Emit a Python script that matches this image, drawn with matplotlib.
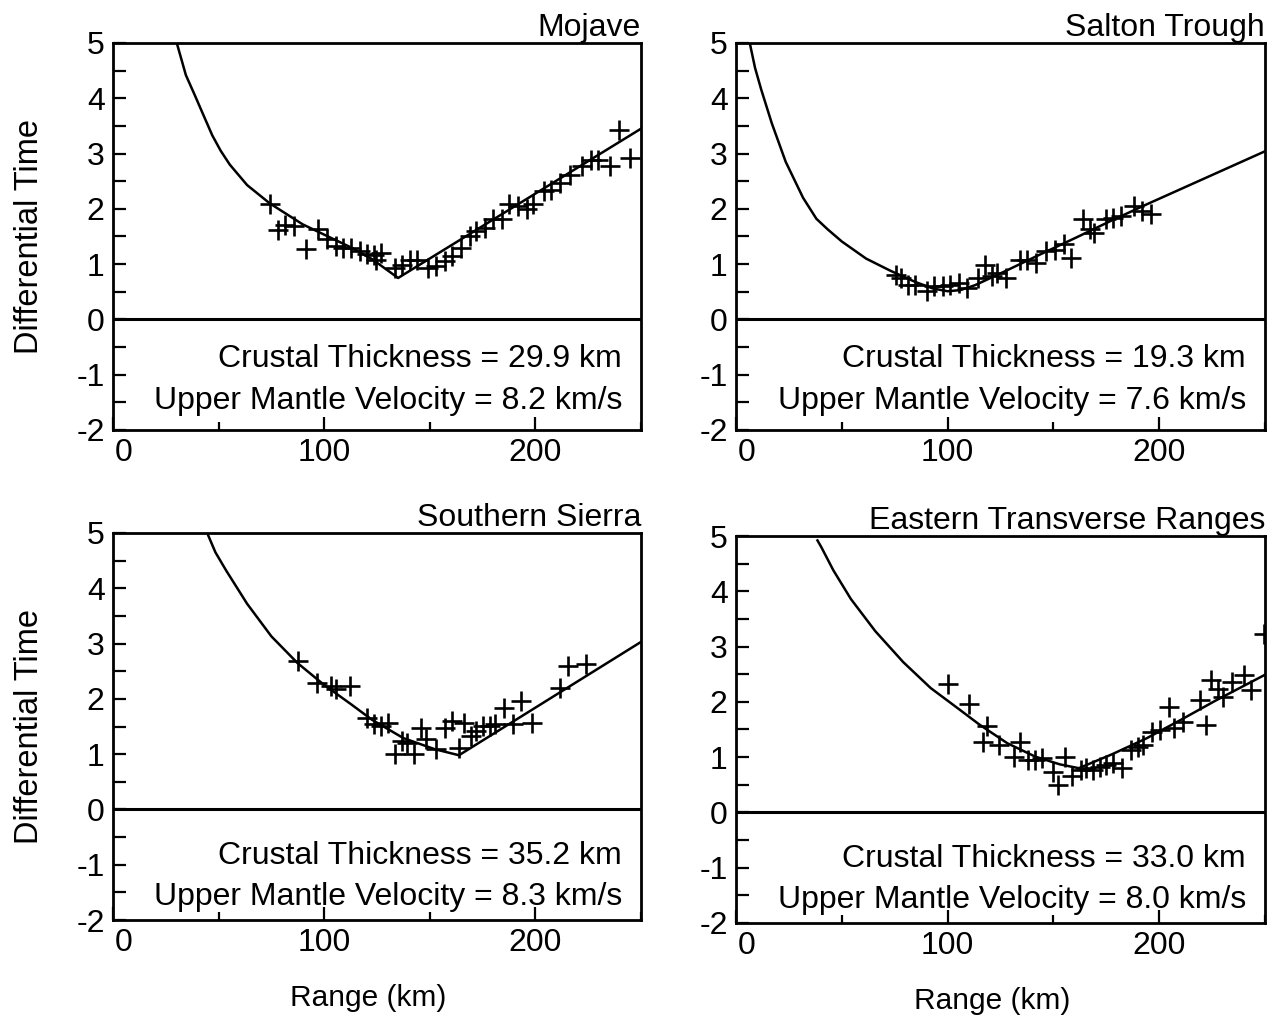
import matplotlib
matplotlib.use('Agg')
import matplotlib.pyplot as plt
import matplotlib.transforms as mtransforms

plt.rcParams['font.family'] = ['Liberation Sans', 'DejaVu Sans']
plt.rcParams['axes.unicode_minus'] = False

titles = ['Mojave', 'Salton Trough', 'Southern Sierra', 'Eastern Transverse Ranges']
thickness = ['29.9', '19.3', '35.2', '33.0']
velocity = ['8.2', '7.6', '8.3', '8.0']

# observed differential times (range km, time s)
mojave_x = [74.2, 78, 81.6, 85.7, 91.4, 97.2, 101.3, 105.4, 108.7, 112.8, 117, 120.2,
            123.5, 126.8, 124.3, 133.4, 136.7, 140.8, 144, 149, 153, 157, 160.5, 164.6,
            168.8, 172, 176, 180, 184, 187.7, 191.8, 195.9, 199, 204, 207.4, 211.5,
            216.4, 222, 226.3, 229.6, 235.4, 239.5, 245]
mojave_y = [2.08, 1.61, 1.70, 1.69, 1.27, 1.63, 1.45, 1.33, 1.30, 1.30, 1.23, 1.19,
            1.17, 1.20, 1.07, 0.93, 0.99, 1.08, 1.08, 0.93, 0.96, 1.05, 1.14, 1.30,
            1.51, 1.60, 1.66, 1.81, 1.81, 2.08, 2.05, 1.99, 2.08, 2.32, 2.35, 2.47,
            2.62, 2.77, 2.89, 2.89, 2.77, 3.43, 2.92]

salton_x = [75.5, 78, 81.3, 84.6, 90.4, 93.7, 97.9, 101, 105.2, 109.4, 114.4, 117.7,
            121, 123.5, 127.6, 134.2, 137.5, 141.7, 146.6, 150.7, 154.9, 158.2, 164,
            167.3, 169, 174.7, 178, 182, 187.9, 192, 196.2]
salton_y = [0.81, 0.75, 0.63, 0.63, 0.51, 0.60, 0.60, 0.63, 0.66, 0.57, 0.75, 0.99,
            0.78, 0.84, 0.75, 1.08, 1.08, 1.02, 1.23, 1.26, 1.36, 1.11, 1.81,
            1.63, 1.57, 1.81, 1.84, 1.87, 2.05, 1.96, 1.90]

sierra_x = [87.8, 96.4, 103, 105.4, 112, 120.2, 123.5, 126.8, 130, 133.4, 136.7, 139.1,
            142.4, 145.7, 148.2, 153.1, 157.2, 160.5, 163.8, 166.2, 169.6, 172, 175.3,
            178.6, 181, 185.2, 189.3, 193.4, 198.4, 211.5, 215.6, 223.8]
sierra_y = [2.68, 2.29, 2.23, 2.17, 2.23, 1.66, 1.54, 1.51, 1.57, 1.00, 1.24, 1.21,
            1.00, 1.48, 1.27, 1.09, 1.48, 1.60, 1.12, 1.57, 1.33, 1.42, 1.51,
            1.51, 1.54, 1.84, 1.54, 1.96, 1.57, 2.20, 2.59, 2.63]

etr_x = [100.3, 109.9, 118.4, 116.8, 124.3, 134, 131.6, 138.2, 141.4, 144.7, 149.7,
         152.2, 155.5, 158.8, 162.9, 165.4, 168.7, 172, 175, 178.4, 182.6, 186.7, 190,
         192.4, 196.5, 200.6, 204.8, 207.2, 211.3, 219.5, 222, 224.5, 227.8, 230.3,
         234.4, 240.1, 243.4, 249.5]
etr_y = [2.32, 1.96, 1.57, 1.27, 1.22, 1.28, 1.01, 0.95, 0.95, 0.98, 0.74,
         0.50, 1.01, 0.65, 0.77, 0.80, 0.77, 0.83, 0.86, 0.89, 0.80, 1.13, 1.19,
         1.22, 1.46, 1.49, 1.91, 1.52, 1.64, 2.03, 1.58, 2.39, 2.24, 2.09,
         2.36, 2.48, 2.21, 3.23]

# model curves
mojave_cx = [30.2, 34.5, 38.8, 43.0, 47.0, 51.0, 55.3, 63.5, 74.2, 89.8, 98.0,
             112.8, 122.7, 135.0, 250]
mojave_cy = [5.00, 4.42, 4.05, 3.68, 3.33, 3.05, 2.80, 2.43, 2.10, 1.72, 1.57,
             1.30, 1.09, 0.75, 3.45]

salton_cx = [6.5, 9.0, 11.9, 16.9, 23.5, 31.7, 38.0, 43.3, 50.0, 61.5, 73.0, 84.6,
             93.0, 100.0, 106.0, 113.0, 127.6, 144.0, 160.7, 177.0, 194.0, 250.5]
salton_cy = [5.00, 4.55, 4.16, 3.55, 2.85, 2.20, 1.82, 1.63, 1.41, 1.10, 0.88, 0.68,
             0.56, 0.51, 0.53, 0.62, 0.88, 1.18, 1.48, 1.78, 2.08, 3.05]

sierra_cx = [44.6, 48.5, 53.6, 63.5, 75.0, 87.3, 99.7, 112.8, 122.7, 137.5, 152.3, 163.8, 250]
sierra_cy = [5.00, 4.65, 4.32, 3.72, 3.13, 2.65, 2.26, 1.90, 1.62, 1.29, 1.09, 0.98, 3.03]

etr_cx = [38.5, 40.3, 46.0, 54.3, 65.8, 79.0, 92.0, 105.3, 115.0, 128.3, 141.4, 153.0,
          162.0, 177.6, 194.0, 210.5, 227.0, 250]
etr_cy = [4.92, 4.80, 4.38, 3.86, 3.28, 2.72, 2.25, 1.87, 1.59, 1.25, 1.01, 0.87,
          0.80, 1.05, 1.34, 1.68, 2.03, 2.49]

obs = [(mojave_x, mojave_y), (salton_x, salton_y), (sierra_x, sierra_y), (etr_x, etr_y)]
curves = [(mojave_cx, mojave_cy), (salton_cx, salton_cy), (sierra_cx, sierra_cy), (etr_cx, etr_cy)]

fig = plt.figure(figsize=(12.73, 10.15), dpi=100)
W, H = 1273., 1015.
# axes boxes in pixels: left, top, right, bottom
boxes = [(113, 43, 641, 430), (736, 43, 1265, 430), (113, 533, 641, 920), (736, 536, 1265, 923)]
text_y = [(-0.72, -1.48), (-0.72, -1.48), (-0.84, -1.58), (-0.84, -1.58)]

for i in range(4):
    l, t, r, b = boxes[i]
    ax = fig.add_axes([l / W, 1 - b / H, (r - l) / W, (b - t) / H])
    ax.plot(obs[i][0], obs[i][1], '+', color='k', markersize=14, markeredgewidth=1.9)
    ax.plot(curves[i][0], curves[i][1], '-', color='k', lw=1.8)
    ax.axhline(0, color='k', lw=2.2)
    ax.set_xlim(0, 250)
    ax.set_ylim(-2, 5)
    ax.set_xticks([0, 100, 200])
    ax.set_xticks([50, 150, 250], minor=True)
    ax.set_yticks(range(-2, 6))
    ax.set_yticks([-1.5, -0.5, 0.5, 1.5, 2.5, 3.5, 4.5], minor=True)
    ax.tick_params(which='both', direction='in', width=1.6, labelsize=23, top=False, right=False)
    ax.tick_params(axis='y', which='both', length=9.5, pad=6)
    ax.tick_params(axis='x', which='major', length=9.5, pad=6)
    ax.tick_params(axis='x', which='minor', length=6)
    for s in ax.spines.values():
        s.set_linewidth(2.0)
    lab = ax.xaxis.get_major_ticks()[0].label1
    lab.set_transform(lab.get_transform() + mtransforms.ScaledTranslation(0.11, 0, fig.dpi_scale_trans))
    ax.set_title(titles[i], loc='right', fontsize=23, pad=1)
    ax.text(0.964, text_y[i][0], 'Crustal Thickness = ' + thickness[i] + ' km',
            transform=ax.get_yaxis_transform(), ha='right', va='center', fontsize=23)
    ax.text(0.964, text_y[i][1], 'Upper Mantle Velocity = ' + velocity[i] + ' km/s',
            transform=ax.get_yaxis_transform(), ha='right', va='center', fontsize=23)
    if i % 2 == 0:
        ax.set_ylabel('Differential Time', fontsize=23.5)
        ax.yaxis.set_label_coords(-0.128, 0.5)
    if i >= 2:
        ax.set_xlabel('Range (km)', fontsize=21.5)
        ax.xaxis.set_label_coords(0.484, -0.166)

plt.savefig('out.png', dpi=100)
